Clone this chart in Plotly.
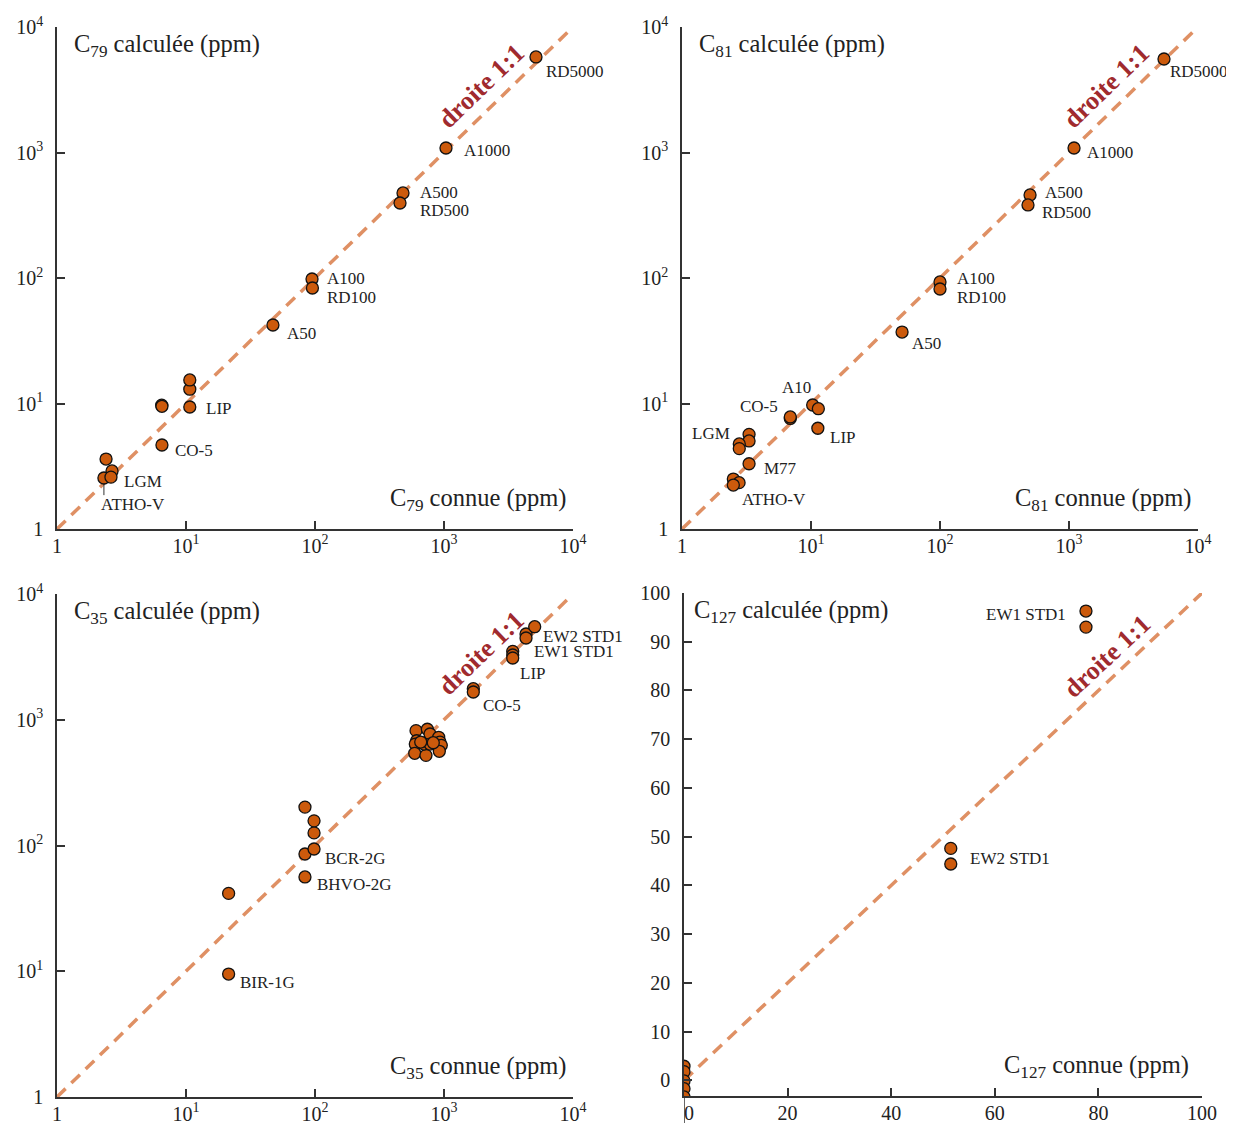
import math
import plotly.graph_objects as go

FONT = "Liberation Serif"

# ---------------- Data ----------------
# Panel 1: C79 (log-log)
p1_known = [2.40, 2.67, 2.31, 2.62, 6.51, 6.48, 6.51, 10.7, 10.7, 10.7, 47.2, 94.8, 95.5, 481, 456, 1036, 5164]
p1_calc = [3.61, 2.90, 2.55, 2.59, 4.67, 9.70, 9.50, 9.38, 13.0, 15.4, 42.2, 98.2, 83.2, 476, 396, 1086, 5770]
p1_label_text = ["ATHO-V", "LGM", "CO-5", "LIP", "A50", "A100", "RD100", "A500", "RD500", "A1000", "RD5000"]
p1_label_idx = [2, 3, 4, 7, 10, 11, 12, 13, 14, 15, 16]

# Panel 2: C81 (log-log)
p2_known = [2.50, 2.77, 2.50, 3.31, 3.31, 3.31, 2.78, 2.78, 6.91, 6.91, 10.3, 11.4, 11.3, 50.8, 100, 100, 499, 481, 1094, 5450]
p2_calc = [2.50, 2.34, 2.24, 3.31, 5.68, 5.03, 4.76, 4.37, 7.60, 7.81, 9.73, 9.09, 6.35, 37.1, 93.0, 81.7, 459, 382, 1086, 5560]
p2_label_text = ["ATHO-V", "M77", "LGM", "CO-5", "A10", "LIP", "A50", "A100", "RD100", "A500", "RD500", "A1000", "RD5000"]
p2_label_idx = [1, 3, 6, 9, 10, 12, 13, 14, 15, 16, 17, 18, 19]

# Panel 3: C35 (log-log)
p3_known = [21.4, 21.4, 83.6, 83.6, 83.6, 98.3, 98.3, 98.3,
            607, 614, 599, 593, 743, 779, 910, 931, 953, 920, 725, 700, 779, 826, 660,
            1687, 1687, 3410, 3410, 3410, 4323, 4323, 5047]
p3_calc = [9.5, 41.6, 56.2, 85.6, 202, 93.8, 126, 157,
           819, 681, 641, 541, 840, 770, 725, 665, 626, 561, 521, 641, 641, 657, 665,
           1766, 1662, 3500, 3273, 3098, 4808, 4468, 5495]
p3_label_text = ["BIR-1G", "BHVO-2G", "BCR-2G", "CO-5", "LIP", "EW1 STD1", "EW2 STD1"]
p3_label_idx = [0, 2, 5, 24, 27, 29, 30]

# Panel 4: C127 (linear)
p4_known = [0, 0, 0, 0, 0, 51.5, 51.5, 77.6, 77.6]
p4_calc = [2.9, 1.8, -0.1, -1.7, -3.4, 47.6, 44.4, 96.3, 93.0]
p4_label_text = ["EW2 STD1", "EW1 STD1"]
p4_label_idx = [6, 7]

log_ticks = [1, 10, 100, 1000, 10000]
log_ticktext = ["1", "10<sup>1</sup>", "10<sup>2</sup>", "10<sup>3</sup>", "10<sup>4</sup>"]
lin_yticks = [0, 10, 20, 30, 40, 50, 60, 70, 80, 90, 100]
lin_xticks = [0, 20, 40, 60, 80, 100]
lin_xticktext = ["&nbsp;&nbsp;0", "20", "40", "60", "80", "100"]

one_to_one_log = [1, 10 ** 3.97]
one_to_one_lin = [0, 100]

isotopes = ["79", "81", "35", "127"]

# ---------------- Styles ----------------
PAD = 8  # default page body margin
W, H = 1234 - PAD, 1123 - PAD
MARKER_COLOR = "#CC5A0C"
LINE_COLOR = "#DF9064"
RED = "#A02A2E"
AXIS_COLOR = "#333333"

# pixel boxes of the plot areas in window pixels: (left, right, top, bottom)
boxes = [(57, 573, 27, 529), (682, 1198, 27, 529), (57, 573, 594, 1097), (684, 1202, 593, 1096)]


def px_x(v):
    return (v - PAD) / W


def px_y(v):
    return 1 - (v - PAD) / H


# label offsets (xanchor, xshift, yshift) per panel
p1_off = [("left", -5, -27), ("left", 11, -4), ("left", 11, -6), ("left", 14, -2), ("left", 12, -8),
          ("left", 13, 0), ("left", 13, -9), ("left", 15, 0), ("left", 18, -8), ("left", 16, -3), ("left", 8, -15)]
p2_off = [("left", 1, -17), ("left", 13, -5), ("right", -7, 10), ("right", -10, 10), ("right", 0, 17),
          ("left", 10, -9), ("left", 8, -11), ("left", 15, 3), ("left", 15, -8), ("left", 13, 2),
          ("left", 12, -8), ("left", 11, -5), ("left", 4, -13)]
p3_off = [("left", 9, -8), ("left", 10, -8), ("left", 9, -9), ("left", 8, -13), ("left", 5, -15),
          ("left", 6, -13), ("left", 6, -10)]
p4_off = [("left", 17, 6), ("right", -18, -3)]

panels = [
    (p1_known, p1_calc, p1_label_text, p1_label_idx, p1_off, True),
    (p2_known, p2_calc, p2_label_text, p2_label_idx, p2_off, True),
    (p3_known, p3_calc, p3_label_text, p3_label_idx, p3_off, True),
    (p4_known, p4_calc, p4_label_text, p4_label_idx, p4_off, False),
]

fig = go.Figure()
annotations = []
shapes = []
layout = {}

for i, (kx, cy, ltext, lidx, loff, is_log) in enumerate(panels):
    n = i + 1
    xa = "x" if n == 1 else f"x{n}"
    ya = "y" if n == 1 else f"y{n}"
    xkey = "xaxis" if n == 1 else f"xaxis{n}"
    ykey = "yaxis" if n == 1 else f"yaxis{n}"
    l, r, t, b = boxes[i]
    xdom = [px_x(l), px_x(r)]
    ydom = [px_y(b), px_y(t)]

    common = dict(showline=True, linecolor=AXIS_COLOR, linewidth=1.5, ticks="inside",
                  ticklen=8, tickwidth=1.5, tickcolor=AXIS_COLOR, showgrid=False,
                  zeroline=False, automargin=False,
                  tickfont=dict(family=FONT, size=20, color="#222"))
    if is_log:
        layout[xkey] = dict(common, type="log", range=[0, 4], domain=xdom, anchor=ya,
                            tickvals=log_ticks, ticktext=log_ticktext, ticklabelstandoff=-2)
        layout[ykey] = dict(common, type="log", range=[0, 4], domain=ydom, anchor=xa,
                            tickvals=log_ticks, ticktext=log_ticktext, ticklabelstandoff=8)
        line_x = one_to_one_log
    else:
        layout[xkey] = dict(common, type="linear", range=[0, 100], domain=xdom, anchor=ya,
                            tickvals=lin_xticks, ticktext=lin_xticktext, ticklabelstandoff=-2)
        layout[ykey] = dict(common, type="linear", range=[-3.2, 100], domain=ydom, anchor=xa,
                            tickvals=lin_yticks, ticklabelstandoff=8)
        line_x = one_to_one_lin
        # y axis line extends below the x axis to the bottom of the figure
        shapes.append(dict(type="line", xref=xa, yref="paper", x0=0, x1=0, y0=0, y1=ydom[0],
                           line=dict(color=AXIS_COLOR, width=1.5)))

    # 1:1 line
    fig.add_trace(go.Scatter(x=line_x, y=line_x, mode="lines", xaxis=xa, yaxis=ya,
                             line=dict(color=LINE_COLOR, width=3.5, dash="12px,8px"),
                             hoverinfo="skip", showlegend=False))

    # ATHO-V leader line in panel 1
    if n == 1:
        j = lidx[0]
        fig.add_trace(go.Scatter(x=[kx[j], kx[j]], y=[cy[j], cy[j] * 0.73], mode="lines",
                                 xaxis=xa, yaxis=ya, line=dict(color="#333", width=1),
                                 hoverinfo="skip", showlegend=False))

    # points
    fig.add_trace(go.Scatter(x=kx, y=cy, mode="markers", xaxis=xa, yaxis=ya, showlegend=False,
                             marker=dict(size=12, color=MARKER_COLOR,
                                         line=dict(color="#111", width=1.3))))

    # point labels
    for txt, j, (anc, dx, dy) in zip(ltext, lidx, loff):
        ax_x = math.log10(kx[j]) if is_log else kx[j]
        ax_y = math.log10(cy[j]) if is_log else cy[j]
        annotations.append(dict(x=ax_x, y=ax_y, xref=xa, yref=ya, text=txt, showarrow=False,
                                xanchor=anc, yanchor="middle", xshift=dx, yshift=dy,
                                font=dict(family=FONT, size=17, color="#222")))

    # axis titles inside the plot
    iso = isotopes[i]
    annotations.append(dict(x=px_x(l + 15 if n != 4 else l + 8), y=px_y(t + 18),
                            xref="paper", yref="paper", xanchor="left", yanchor="middle",
                            text=f"C<sub>{iso}</sub> calculée (ppm)", showarrow=False,
                            font=dict(family=FONT, size=24.5, color="#222")))
    annotations.append(dict(x=px_x(r - 5 if n != 4 else r - 11), y=px_y(b - 30),
                            xref="paper", yref="paper", xanchor="right", yanchor="middle",
                            text=f"C<sub>{iso}</sub> connue (ppm)", showarrow=False,
                            font=dict(family=FONT, size=24.5, color="#222")))

    # "droite 1:1" label
    if is_log:
        annotations.append(dict(x=3.287, y=3.525, xref=xa, yref=ya, text="<b>droite 1:1</b>",
                                showarrow=False, textangle=-44, xanchor="center", yanchor="middle",
                                font=dict(family=FONT, size=26, color=RED)))
    else:
        annotations.append(dict(x=81.7, y=86.9, xref=xa, yref=ya, text="<b>droite 1:1</b>",
                                showarrow=False, textangle=-43, xanchor="center", yanchor="middle",
                                font=dict(family=FONT, size=26, color=RED)))

fig.update_layout(width=W, height=H, margin=dict(l=0, r=0, t=0, b=0, autoexpand=False),
                  plot_bgcolor="white", paper_bgcolor="white",
                  annotations=annotations, shapes=shapes, showlegend=False,
                  font=dict(family=FONT), **layout)

fig.write_html("out.html")
